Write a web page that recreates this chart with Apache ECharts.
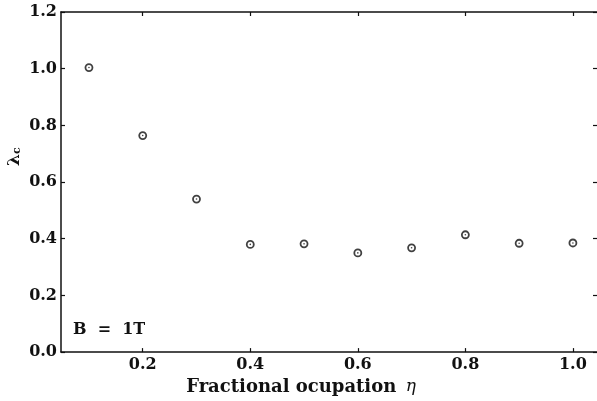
<!DOCTYPE html>
<html>
<head>
<meta charset="utf-8">
<script src="https://cdn.jsdelivr.net/npm/echarts@6/dist/echarts.min.js"></script>
<style>
  html, body { margin: 0; padding: 0; background: #fff; }
  #chart { width: 597px; height: 401px; }
</style>
</head>
<body>
<div id="chart"></div>
<script>
  // fractional occupation eta and critical lambda
  const etaValues = [0.1, 0.2, 0.3, 0.4, 0.5, 0.6, 0.7, 0.8, 0.9, 1.0];
  const lambdaValues = [1.004, 0.764, 0.540, 0.380, 0.382, 0.350, 0.368, 0.414, 0.384, 0.385];
  const xTicks = [0.2, 0.4, 0.6, 0.8, 1.0];

  const points = etaValues.map((x, i) => [x, lambdaValues[i]]);
  const serif = 'DejaVu Serif';
  const ink = '#111';

  const chart = echarts.init(document.getElementById('chart'), null, { renderer: 'canvas' });

  const xBase = {
    type: 'value',
    min: 0.048,
    max: 1.0448,
    splitLine: { show: false },
    axisLine: { onZero: false, lineStyle: { color: ink, width: 1.5 } },
    axisTick: { inside: true, length: 4, customValues: xTicks, lineStyle: { color: ink, width: 1.2 } },
  };
  const yBase = {
    type: 'value',
    min: 0,
    max: 1.2,
    interval: 0.2,
    splitLine: { show: false },
    axisLine: { onZero: false, lineStyle: { color: ink, width: 1.5 } },
    axisTick: { inside: true, length: 4, lineStyle: { color: ink, width: 1.2 } },
  };

  const option = {
    animation: false,
    backgroundColor: '#fff',
    grid: { left: 61, right: -1, top: 12, bottom: 41 },
    xAxis: [
      {
        ...xBase,
        position: 'bottom',
        axisLabel: {
          customValues: xTicks,
          margin: 5,
          color: ink,
          fontFamily: serif,
          fontWeight: 'bold',
          fontSize: 16,
          formatter: (v) => v.toFixed(1),
        },
        name: '{b|Fractional ocupation} {e|η}',
        nameLocation: 'middle',
        nameGap: 24,
        nameTextStyle: {
          padding: [0, 56, 0, 0],
          rich: {
            b: { fontFamily: serif, fontWeight: 'bold', fontSize: 18, color: ink },
            e: { fontFamily: serif, fontStyle: 'italic', fontSize: 17, color: ink, padding: [0, 0, 0, 6] },
          },
        },
      },
      { ...xBase, position: 'top', axisLabel: { show: false } },
    ],
    yAxis: [
      {
        ...yBase,
        position: 'left',
        axisLabel: {
          margin: 4,
          color: ink,
          fontFamily: serif,
          fontWeight: 'bold',
          fontSize: 16,
          formatter: (v) => v.toFixed(1),
        },
      },
      { ...yBase, position: 'right', axisLine: { show: false }, axisLabel: { show: false } },
    ],
    graphic: [
      {
        type: 'text',
        left: 73,
        top: 322,
        style: { text: 'B  =  1T', fontFamily: serif, fontWeight: 'bold', fontSize: 16, fill: ink },
      },
      {
        type: 'text',
        x: 6,
        y: 166,
        rotation: Math.PI / 2,
        style: {
          text: '{l|λ}{s|c}',
          rich: {
            l: { fontFamily: serif, fontWeight: 'bold', fontSize: 17, fill: ink },
            s: { fontFamily: serif, fontWeight: 'bold', fontSize: 11, fill: ink, padding: [6, 0, 0, 0] },
          },
        },
      },
    ],
    series: [
      {
        type: 'scatter',
        data: points,
        symbol: 'circle',
        symbolSize: 7,
        itemStyle: { color: '#fff', borderColor: ink, borderWidth: 1.8 },
        silent: true,
        z: 2,
      },
      {
        type: 'scatter',
        data: points,
        symbol: 'circle',
        symbolSize: 1.6,
        itemStyle: { color: ink },
        silent: true,
        z: 3,
      },
    ],
  };

  chart.setOption(option);
</script>
</body>
</html>
